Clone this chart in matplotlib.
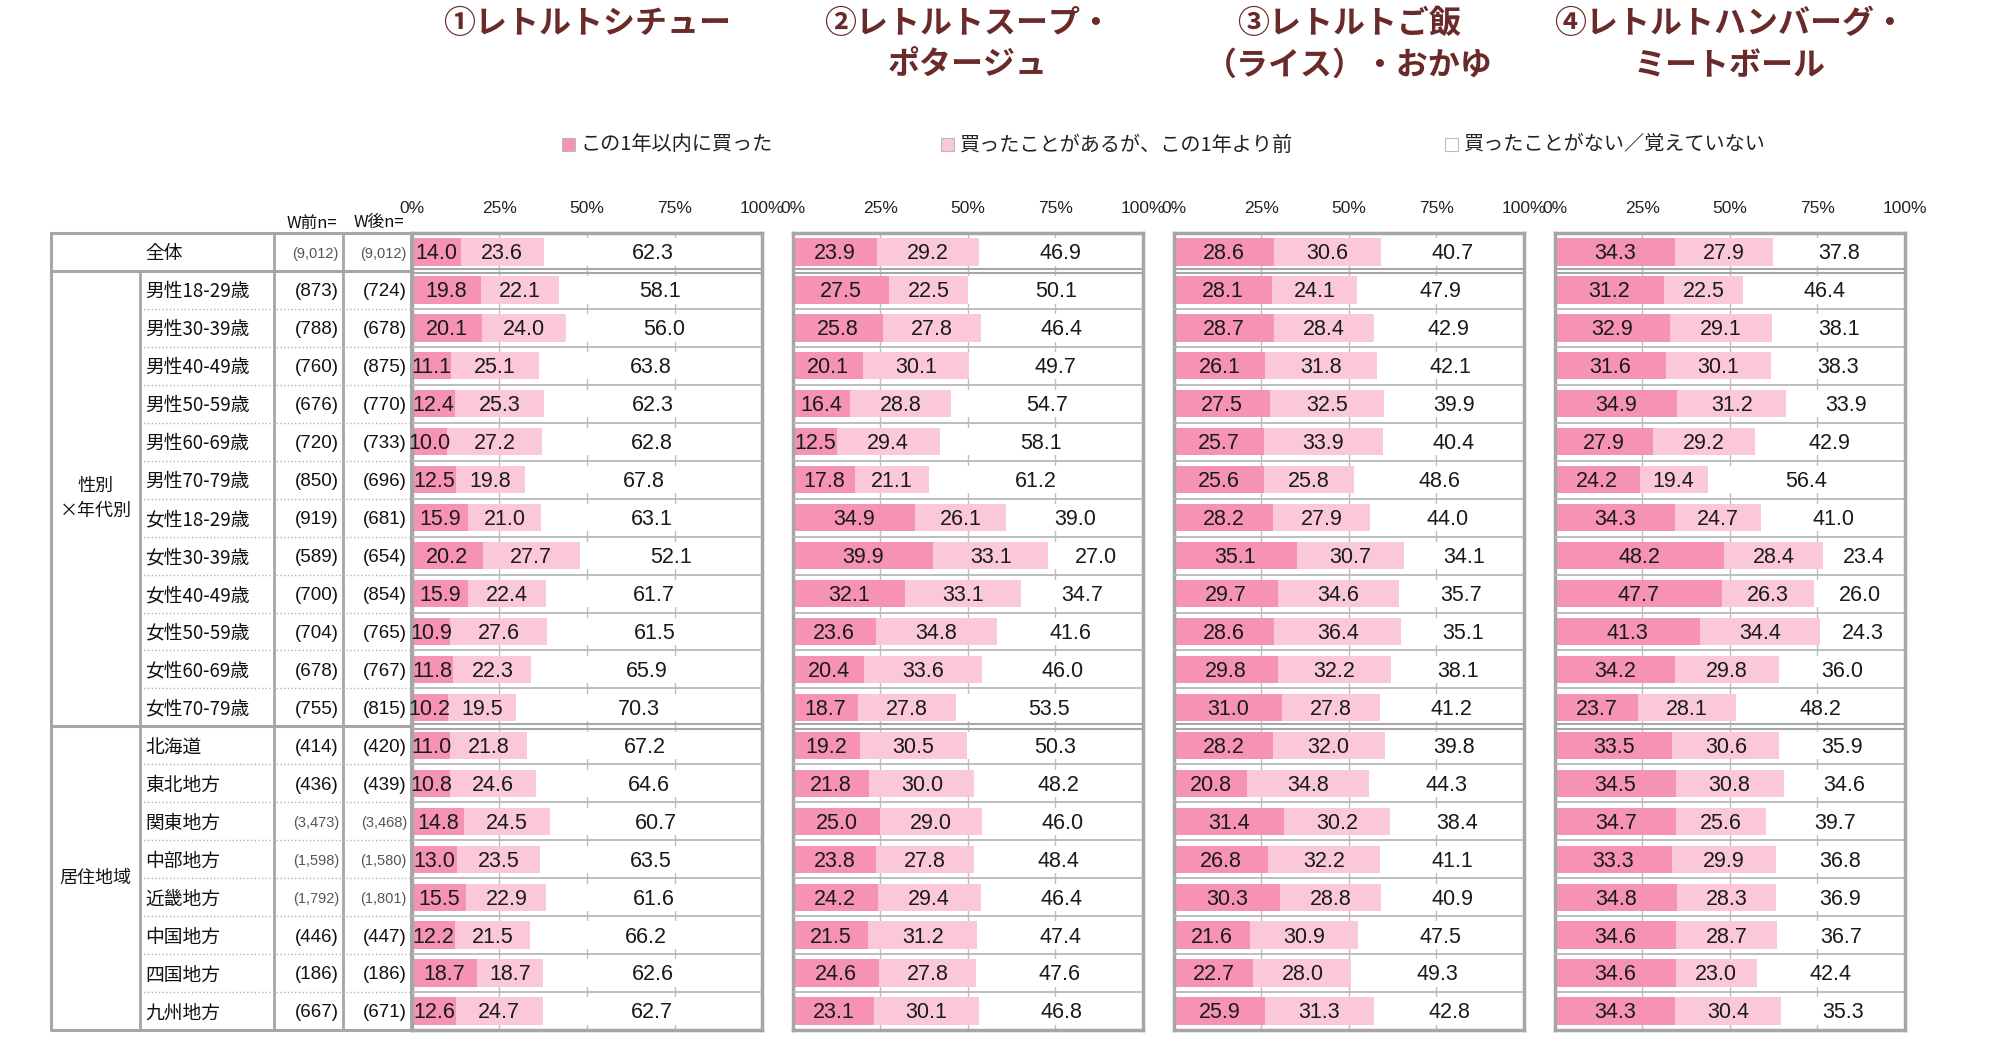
import matplotlib
matplotlib.use('Agg')
import matplotlib.pyplot as plt
from matplotlib.patches import Rectangle

plt.rcParams['font.family'] = ['Noto Sans CJK JP', 'DejaVu Sans']

W, H = 1999, 1049

row_labels = ['全体', '男性18-29歳', '男性30-39歳', '男性40-49歳', '男性50-59歳', '男性60-69歳',
              '男性70-79歳', '女性18-29歳', '女性30-39歳', '女性40-49歳', '女性50-59歳',
              '女性60-69歳', '女性70-79歳', '北海道', '東北地方', '関東地方', '中部地方',
              '近畿地方', '中国地方', '四国地方', '九州地方']
n_before = ['(9,012)', '(873)', '(788)', '(760)', '(676)', '(720)', '(850)', '(919)', '(589)',
            '(700)', '(704)', '(678)', '(755)', '(414)', '(436)', '(3,473)', '(1,598)',
            '(1,792)', '(446)', '(186)', '(667)']
n_after = ['(9,012)', '(724)', '(678)', '(875)', '(770)', '(733)', '(696)', '(681)', '(654)',
           '(854)', '(765)', '(767)', '(815)', '(420)', '(439)', '(3,468)', '(1,580)',
           '(1,801)', '(447)', '(186)', '(671)']
groups = ['性別\n×年代別', '居住地域']
group_rows = [(1, 13), (13, 21)]

titles = ['①レトルトシチュー', '②レトルトスープ・\nポタージュ',
          '③レトルトご飯\n（ライス）・おかゆ', '④レトルトハンバーグ・\nミートボール']
series_names = ['この1年以内に買った', '買ったことがあるが、この1年より前', '買ったことがない／覚えていない']

# ① シチュー
stew_recent = [14.0, 19.8, 20.1, 11.1, 12.4, 10.0, 12.5, 15.9, 20.2, 15.9, 10.9, 11.8, 10.2,
               11.0, 10.8, 14.8, 13.0, 15.5, 12.2, 18.7, 12.6]
stew_past = [23.6, 22.1, 24.0, 25.1, 25.3, 27.2, 19.8, 21.0, 27.7, 22.4, 27.6, 22.3, 19.5,
             21.8, 24.6, 24.5, 23.5, 22.9, 21.5, 18.7, 24.7]
stew_never = [62.3, 58.1, 56.0, 63.8, 62.3, 62.8, 67.8, 63.1, 52.1, 61.7, 61.5, 65.9, 70.3,
              67.2, 64.6, 60.7, 63.5, 61.6, 66.2, 62.6, 62.7]
# ② スープ
soup_recent = [23.9, 27.5, 25.8, 20.1, 16.4, 12.5, 17.8, 34.9, 39.9, 32.1, 23.6, 20.4, 18.7,
               19.2, 21.8, 25.0, 23.8, 24.2, 21.5, 24.6, 23.1]
soup_past = [29.2, 22.5, 27.8, 30.1, 28.8, 29.4, 21.1, 26.1, 33.1, 33.1, 34.8, 33.6, 27.8,
             30.5, 30.0, 29.0, 27.8, 29.4, 31.2, 27.8, 30.1]
soup_never = [46.9, 50.1, 46.4, 49.7, 54.7, 58.1, 61.2, 39.0, 27.0, 34.7, 41.6, 46.0, 53.5,
              50.3, 48.2, 46.0, 48.4, 46.4, 47.4, 47.6, 46.8]
# ③ ご飯
rice_recent = [28.6, 28.1, 28.7, 26.1, 27.5, 25.7, 25.6, 28.2, 35.1, 29.7, 28.6, 29.8, 31.0,
               28.2, 20.8, 31.4, 26.8, 30.3, 21.6, 22.7, 25.9]
rice_past = [30.6, 24.1, 28.4, 31.8, 32.5, 33.9, 25.8, 27.9, 30.7, 34.6, 36.4, 32.2, 27.8,
             32.0, 34.8, 30.2, 32.2, 28.8, 30.9, 28.0, 31.3]
rice_never = [40.7, 47.9, 42.9, 42.1, 39.9, 40.4, 48.6, 44.0, 34.1, 35.7, 35.1, 38.1, 41.2,
              39.8, 44.3, 38.4, 41.1, 40.9, 47.5, 49.3, 42.8]
# ④ ハンバーグ
burg_recent = [34.3, 31.2, 32.9, 31.6, 34.9, 27.9, 24.2, 34.3, 48.2, 47.7, 41.3, 34.2, 23.7,
               33.5, 34.5, 34.7, 33.3, 34.8, 34.6, 34.6, 34.3]
burg_past = [27.9, 22.5, 29.1, 30.1, 31.2, 29.2, 19.4, 24.7, 28.4, 26.3, 34.4, 29.8, 28.1,
             30.6, 30.8, 25.6, 29.9, 28.3, 28.7, 23.0, 30.4]
burg_never = [37.8, 46.4, 38.1, 38.3, 33.9, 42.9, 56.4, 41.0, 23.4, 26.0, 24.3, 36.0, 48.2,
              35.9, 34.6, 39.7, 36.8, 36.9, 36.7, 42.4, 35.3]

panels = [(stew_recent, stew_past, stew_never),
          (soup_recent, soup_past, soup_never),
          (rice_recent, rice_past, rice_never),
          (burg_recent, burg_past, burg_never)]

colors = ['#F592B6', '#FAC8DA', '#FFFFFF']
grey = '#A6A6A6'
title_color = '#6B2A2A'
num_font = 'Liberation Sans'

fig = plt.figure(figsize=(W / 100, H / 100), dpi=100)

top_px, bot_px = 233, 1030
nrows = len(row_labels)


def px_axes(x0, x1):
    return fig.add_axes([x0 / W, 1 - bot_px / H, (x1 - x0) / W, (bot_px - top_px) / H])


# ---- left table ----
c0, c1, c2, c3, c4 = 51, 140, 274, 343, 411
tab = px_axes(c0, c4)
tab.set_xlim(c0, c4)
tab.set_ylim(nrows, 0)
tab.axis('off')
kw = dict(color=grey, clip_on=False)
tab.plot([c0, c4, c4, c0, c0], [0, 0, nrows, nrows, 0], lw=2.2, **kw)
tab.plot([c1, c1], [1, nrows], lw=2, **kw)
tab.plot([c2, c2], [0, nrows], lw=2, **kw)
tab.plot([c3, c3], [0, nrows], lw=2, **kw)
for b in [1, 13]:
    tab.plot([c0, c4], [b, b], lw=2.2, **kw)
for b in range(2, nrows):
    if b != 13:
        tab.plot([c1, c4], [b, b], lw=1, ls=':', color='#B0B0B0', clip_on=False)

for i, lab in enumerate(row_labels):
    y = i + 0.55
    tab.text(c1 + 5, y, lab, ha='left', va='center', fontsize=13.5, color='#111111')
    for x, s in [(c3 - 4, n_before[i]), (c4 - 4, n_after[i])]:
        if ',' in s:
            tab.text(x, y, s, ha='right', va='center', fontsize=10.5, color='#555555',
                     family=num_font)
        else:
            tab.text(x, y, s, ha='right', va='center', fontsize=13.5, color='#111111',
                     family=num_font)
for g, (r0, r1) in zip(groups, group_rows):
    tab.text((c0 + c1) / 2, (r0 + r1) / 2, g, ha='center', va='center', fontsize=13,
             color='#111111', linespacing=1.5)

fig.text(337 / W, 1 - 223 / H, 'W前n=', ha='right', va='center', fontsize=12, color='#111111')
fig.text(404 / W, 1 - 223 / H, 'W後n=', ha='right', va='center', fontsize=12, color='#111111')

# ---- bar panels ----
panel_left = [412, 793, 1174, 1555]
panel_w = 350
ys = [i + 0.5 for i in range(nrows)]
for k, (vals, x0) in enumerate(zip(panels, panel_left)):
    ax = px_axes(x0, x0 + panel_w)
    ax.set_xlim(0, 100)
    ax.set_ylim(nrows, 0)
    for g in [25, 50, 75]:
        ax.axvline(g, color='#BDBDBD', lw=1, zorder=0)
    for b in range(1, nrows):
        if b in (1, 13):
            ax.axhline(b - 0.06, color=grey, lw=1.5, zorder=3)
            ax.axhline(b + 0.06, color=grey, lw=1.5, zorder=3)
        else:
            ax.axhline(b, color='#B8B8B8', lw=1.3, zorder=3)
    left = [0.0] * nrows
    for s, series in enumerate(vals):
        ax.barh(ys, series, left=left, height=0.72, color=colors[s], edgecolor='none', zorder=2)
        for y, l, v in zip(ys, left, series):
            ax.text(l + v / 2, y + 0.05, f'{v:.1f}', ha='center', va='center', fontsize=15.5,
                    color='#1A1A1A', family=num_font, zorder=4)
        left = [a + b for a, b in zip(left, series)]
    ax.xaxis.tick_top()
    ax.set_xticks([0, 25, 50, 75, 100])
    ax.set_xticklabels(['0%', '25%', '50%', '75%', '100%'], family=num_font, fontsize=12.5,
                       color='#222222')
    ax.tick_params(axis='x', length=0, pad=12)
    ax.set_yticks([])
    for sp in ax.spines.values():
        sp.set_color(grey)
        sp.set_linewidth(2.5)
    cx = (x0 + panel_w / 2) / W
    fig.text(cx, 1 - 8 / H, titles[k], ha='center', va='top', fontsize=23, fontweight='bold',
             color=title_color, linespacing=1.4)

# ---- legend ----
leg_x = [562, 941, 1445]
for name, c, x in zip(series_names, colors, leg_x):
    fig.patches.append(Rectangle((x / W, 1 - 151 / H), 13 / W, 13 / H, transform=fig.transFigure,
                                 facecolor=c, edgecolor='#BBBBBB', lw=0.8))
    fig.text((x + 19) / W, 1 - 145 / H, name, ha='left', va='center', fontsize=14.5, color='#222222')

fig.savefig('out.png', dpi=100)
